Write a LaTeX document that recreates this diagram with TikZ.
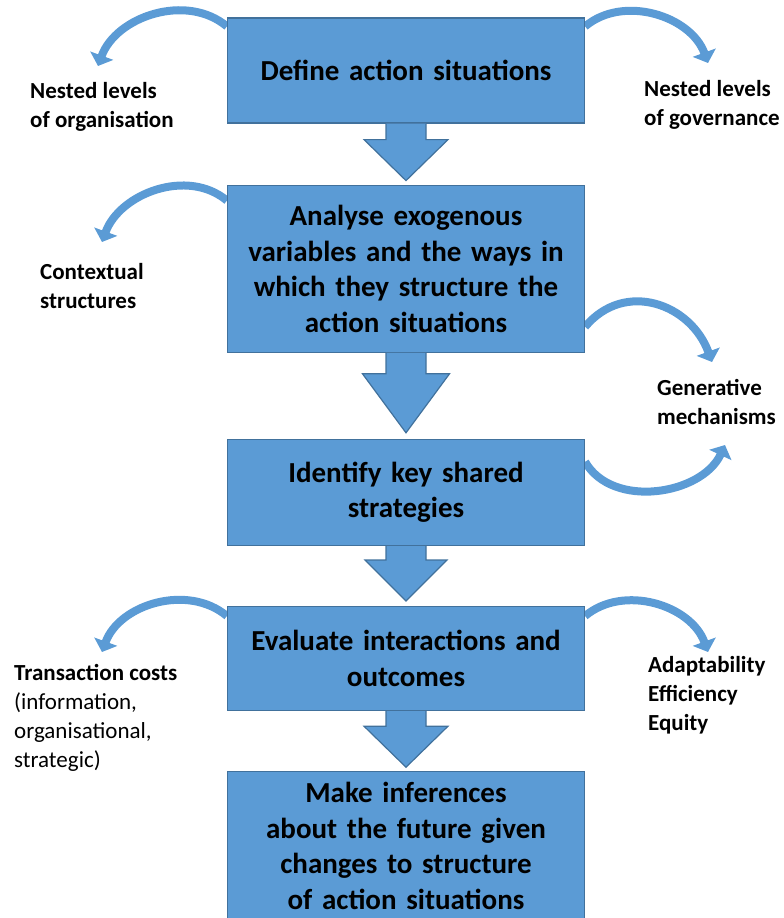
\documentclass[tikz,border=0pt]{standalone}
\usepackage{fontspec}
\setmainfont{Carlito}
\usetikzlibrary{positioning,arrows.meta,backgrounds}

\definecolor{boxblue}{HTML}{5B9BD5}
\definecolor{edgeblue}{HTML}{41719C}

\begin{document}
\begin{tikzpicture}[x=1pt, y=1pt, node distance=60pt,
	stagebox/.style={rectangle, draw=edgeblue, line width=1.2pt, fill=boxblue, align=center, text width=320pt, minimum width=357pt, font=\fontsize{29}{35.5}\selectfont\bfseries},
	side/.style={anchor=west, align=left, inner sep=0pt, font=\fontsize{23}{29}\selectfont\bfseries},
	flow/.style={draw=edgeblue, line width=1.2pt, fill=boxblue},
	curvearrow/.style={draw=boxblue, line width=8pt, -{Triangle[length=11pt, width=24pt]}}]
	\useasboundingbox (0,0) rectangle (784,-918);

	\node (define) [stagebox, minimum height=105pt] at (406,-70.5) {Define action situations};
	\node (analyse) [stagebox, minimum height=167pt, below=61pt of define]
	{
		Analyse exogenous\\
		variables and the ways in\\
		which they structure the\\
		action situations
	};
	\node (identify) [stagebox, minimum height=106pt, below=86pt of analyse]
	{
		Identify key shared\\
		strategies
	};
	\node (evaluate) [stagebox, minimum height=104pt, below=60pt of identify]
	{
		Evaluate interactions and\\
		outcomes
	};
	\node (infer) [stagebox, minimum height=148pt, below=60pt of evaluate]
	{
		Make inferences\\
		about the future given\\
		changes to structure\\
		of action situations
	};

	\node (org) [side] at (30,-107) {Nested levels\\of organisation};
	\node (gov) [side] at (644,-105) {Nested levels\\of governance};
	\node (ctx) [side] at (40,-286) {Contextual\\structures};
	\node (gen) [side] at (657,-402) {Generative\\mechanisms};
	\node (trans) [side] at (14,-718) {Transaction costs\\\mdseries(information,\\\mdseries organisational,\\\mdseries strategic)};
	\node (adapt) [side] at (648,-695) {Adaptability\\Efficiency\\Equity};

	\coordinate (orgtip) at (98,-66);
	\coordinate (govtip) at (708,-63);
	\coordinate (ctxtip) at (102,-242);
	\coordinate (gentop) at (712,-362);
	\coordinate (genbot) at (725,-445);
	\coordinate (transtip) at (102,-652);
	\coordinate (adapttip) at (708,-652);

	\draw[flow] ([xshift=-20pt]define.south) -- ++(0,-16) -- ++(-22,0) -- ++(42,-41) -- ++(42,41) -- ++(-22,0) -- ++(0,16);
	\draw[flow] ([xshift=-20pt]analyse.south) -- ++(0,-21) -- ++(-23.5,0) -- ++(43.5,-59) -- ++(43.5,59) -- ++(-23.5,0) -- ++(0,21);
	\draw[flow] ([xshift=-20pt]identify.south) -- ++(0,-14) -- ++(-21,0) -- ++(41,-41) -- ++(41,41) -- ++(-21,0) -- ++(0,14);
	\draw[flow] ([xshift=-20pt]evaluate.south) -- ++(0,-15) -- ++(-22,0) -- ++(42,-41) -- ++(42,41) -- ++(-22,0) -- ++(0,15);

	\begin{scope}[on background layer]
		\draw[curvearrow] ([yshift=-9pt]define.north west) to[out=140, in=70] (orgtip);
		\draw[curvearrow] ([yshift=-9pt]define.north east) to[out=40, in=110] (govtip);
		\draw[curvearrow] ([yshift=-16pt]analyse.north west) to[out=140, in=70] (ctxtip);
		\draw[curvearrow] ([yshift=26pt]analyse.south east) to[out=50, in=110, looseness=1.2] (gentop);
		\draw[curvearrow] ([yshift=-23pt]identify.north east) to[out=-60, in=-115] (genbot);
		\draw[curvearrow] ([yshift=-10pt]evaluate.north west) to[out=140, in=70] (transtip);
		\draw[curvearrow] ([yshift=-10pt]evaluate.north east) to[out=40, in=110] (adapttip);
	\end{scope}
\end{tikzpicture}
\end{document}
